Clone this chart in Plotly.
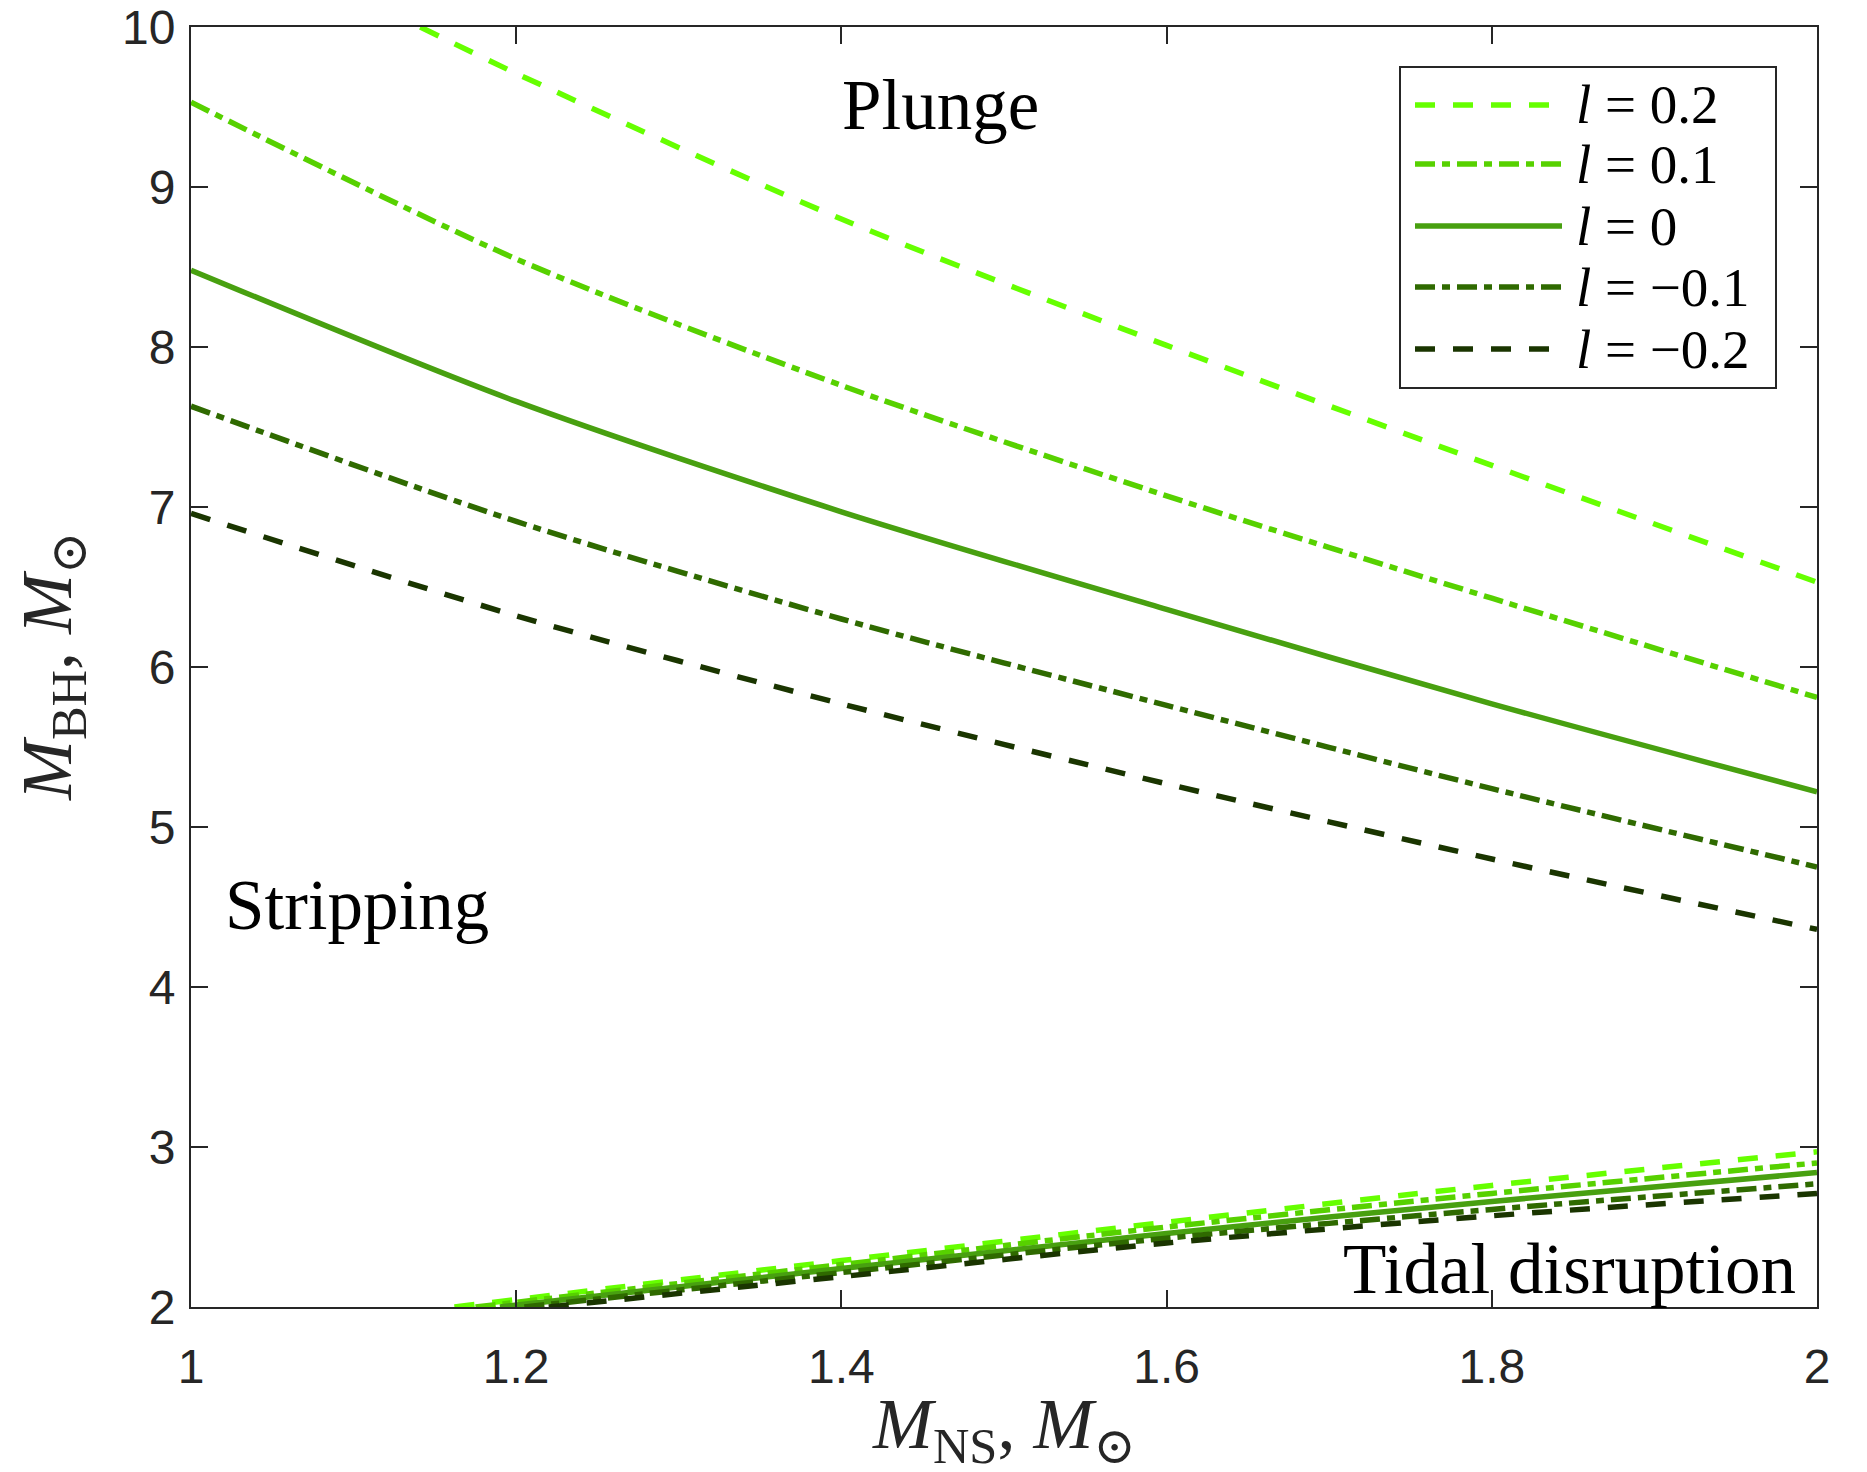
import plotly.graph_objects as go

# ---------------- data ----------------
legend_labels = ["<i>l</i> = 0.2", "<i>l</i> = 0.1", "<i>l</i> = 0",
                 "<i>l</i> = \u22120.1", "<i>l</i> = \u22120.2"]

# upper boundary (plunge / stripping)
up_x_p02 = [1.141, 1.2, 1.4, 1.6, 1.8, 2.0]
up_y_p02 = [10.0, 9.71, 8.80, 8.01, 7.26, 6.53]
up_x_p01 = [1.0, 1.2, 1.4, 1.6, 1.8, 2.0]
up_y_p01 = [9.53, 8.55, 7.76, 7.07, 6.43, 5.81]
up_x_0 = [1.0, 1.2, 1.4, 1.6, 1.8, 2.0]
up_y_0 = [8.48, 7.66, 6.97, 6.36, 5.77, 5.22]
up_x_m01 = [1.0, 1.2, 1.4, 1.6, 1.8, 2.0]
up_y_m01 = [7.63, 6.91, 6.30, 5.76, 5.24, 4.75]
up_x_m02 = [1.0, 1.2, 1.4, 1.6, 1.8, 2.0]
up_y_m02 = [6.96, 6.32, 5.77, 5.27, 4.80, 4.36]

# lower boundary (stripping / tidal disruption)
lo_x_p02 = [1.162, 1.4, 1.6, 1.8, 2.0]
lo_y_p02 = [2.0, 2.29, 2.53, 2.76, 2.97]
lo_x_p01 = [1.175, 1.4, 1.6, 1.8, 2.0]
lo_y_p01 = [2.0, 2.265, 2.50, 2.71, 2.90]
lo_x_0 = [1.19, 1.4, 1.6, 1.8, 2.0]
lo_y_0 = [2.0, 2.24, 2.46, 2.66, 2.84]
lo_x_m01 = [1.205, 1.4, 1.6, 1.8, 2.0]
lo_y_m01 = [2.0, 2.215, 2.43, 2.61, 2.77]
lo_x_m02 = [1.22, 1.4, 1.6, 1.8, 2.0]
lo_y_m02 = [2.0, 2.19, 2.40, 2.57, 2.71]

x_tickvals = [1, 1.2, 1.4, 1.6, 1.8, 2]
x_ticktext = ["1", "1.2", "1.4", "1.6", "1.8", "2"]
y_tickvals = [2, 3, 4, 5, 6, 7, 8, 9, 10]
y_ticktext = ["2", "3", "4", "5", "6", "7", "8", "9", "10"]

# ---------------- styles ----------------
colors = ["#66FF00", "#57D100", "#48A010", "#2F6A00", "#1A3500"]
dash_d = "20px,18px"
dash_dd = "20px,7px,8px,7px"
dashes = [dash_d, dash_dd, "solid", dash_dd, dash_d]
LW = 5.5
axcol = "#262626"
serif = "Liberation Serif, DejaVu Serif, serif"
sans = "Liberation Sans, Arial, sans-serif"

upper = [(up_x_p02, up_y_p02), (up_x_p01, up_y_p01), (up_x_0, up_y_0),
         (up_x_m01, up_y_m01), (up_x_m02, up_y_m02)]
lower = [(lo_x_p02, lo_y_p02), (lo_x_p01, lo_y_p01), (lo_x_0, lo_y_0),
         (lo_x_m01, lo_y_m01), (lo_x_m02, lo_y_m02)]

fig = go.Figure()
for i in range(5):
    for (xs, ys) in (upper[i], lower[i]):
        fig.add_trace(go.Scatter(
            x=xs, y=ys, mode="lines", name=legend_labels[i], showlegend=False,
            line=dict(color=colors[i], width=LW, dash=dashes[i],
                      shape="spline", smoothing=0.8)))

# ---------------- manual legend (long line samples like the original) ----------------
W, H = 1867, 1472
ml, mr, mt, mb = 191, 50, 27, 165
pw, ph = W - ml - mr, H - mt - mb

def px2paper_x(px):
    return (px - ml) / pw

def px2paper_y(py):
    return (H - mb - py) / ph

shapes = [dict(type="rect", xref="paper", yref="paper",
               x0=px2paper_x(1400), x1=px2paper_x(1776),
               y0=px2paper_y(388), y1=px2paper_y(67),
               line=dict(color=axcol, width=2), fillcolor="white", layer="above")]
annotations = []
row_y = [105, 164, 226, 287, 349]
for i in range(5):
    shapes.append(dict(type="line", xref="paper", yref="paper",
                       x0=px2paper_x(1415), x1=px2paper_x(1562),
                       y0=px2paper_y(row_y[i]), y1=px2paper_y(row_y[i]),
                       line=dict(color=colors[i], width=LW, dash=dashes[i]),
                       layer="above"))
    annotations.append(dict(xref="paper", yref="paper",
                            x=px2paper_x(1574), y=px2paper_y(row_y[i]),
                            xanchor="left", yanchor="middle", showarrow=False,
                            text=legend_labels[i],
                            font=dict(family=serif, size=55, color="black")))

# region labels
annotations += [
    dict(x=1.461, y=9.51, xref="x", yref="y", text="Plunge", showarrow=False,
         font=dict(family=serif, size=71, color="black")),
    dict(x=1.102, y=4.51, xref="x", yref="y", text="Stripping", showarrow=False,
         font=dict(family=serif, size=71, color="black")),
    dict(x=1.848, y=2.24, xref="x", yref="y", text="Tidal disruption", showarrow=False,
         font=dict(family=serif, size=71, color="black")),
]

# axis titles
annotations += [
    dict(xref="paper", yref="paper", x=0.5, y=px2paper_y(1429),
         xanchor="center", yanchor="middle", showarrow=False,
         text="<i>M</i><sub>NS</sub>, <i>M</i><sub>\u2299</sub>",
         font=dict(family=serif, size=72, color=axcol)),
    dict(xref="paper", yref="paper", x=px2paper_x(52), y=0.5,
         xanchor="center", yanchor="middle", showarrow=False, textangle=-90,
         text="<i>M</i><sub>BH</sub>, <i>M</i><sub>\u2299</sub>",
         font=dict(family=serif, size=72, color=axcol)),
]

axis_common = dict(showgrid=False, zeroline=False, showline=True, linewidth=2,
                   linecolor=axcol, mirror="ticks", ticks="inside", ticklen=17,
                   tickwidth=2, tickcolor=axcol, automargin=False,
                   tickfont=dict(family=sans, size=48, color=axcol))

fig.update_layout(
    width=W, height=H,
    margin=dict(l=ml, r=mr, t=mt, b=mb, autoexpand=False),
    paper_bgcolor="white", plot_bgcolor="white",
    showlegend=False,
    xaxis=dict(range=[1, 2], tickvals=x_tickvals, ticktext=x_ticktext,
               ticklabelstandoff=16, **axis_common),
    yaxis=dict(range=[2, 10], tickvals=y_tickvals, ticktext=y_ticktext,
               ticklabelstandoff=4, **axis_common),
    shapes=shapes,
    annotations=annotations,
)

fig.write_html("out.html")
